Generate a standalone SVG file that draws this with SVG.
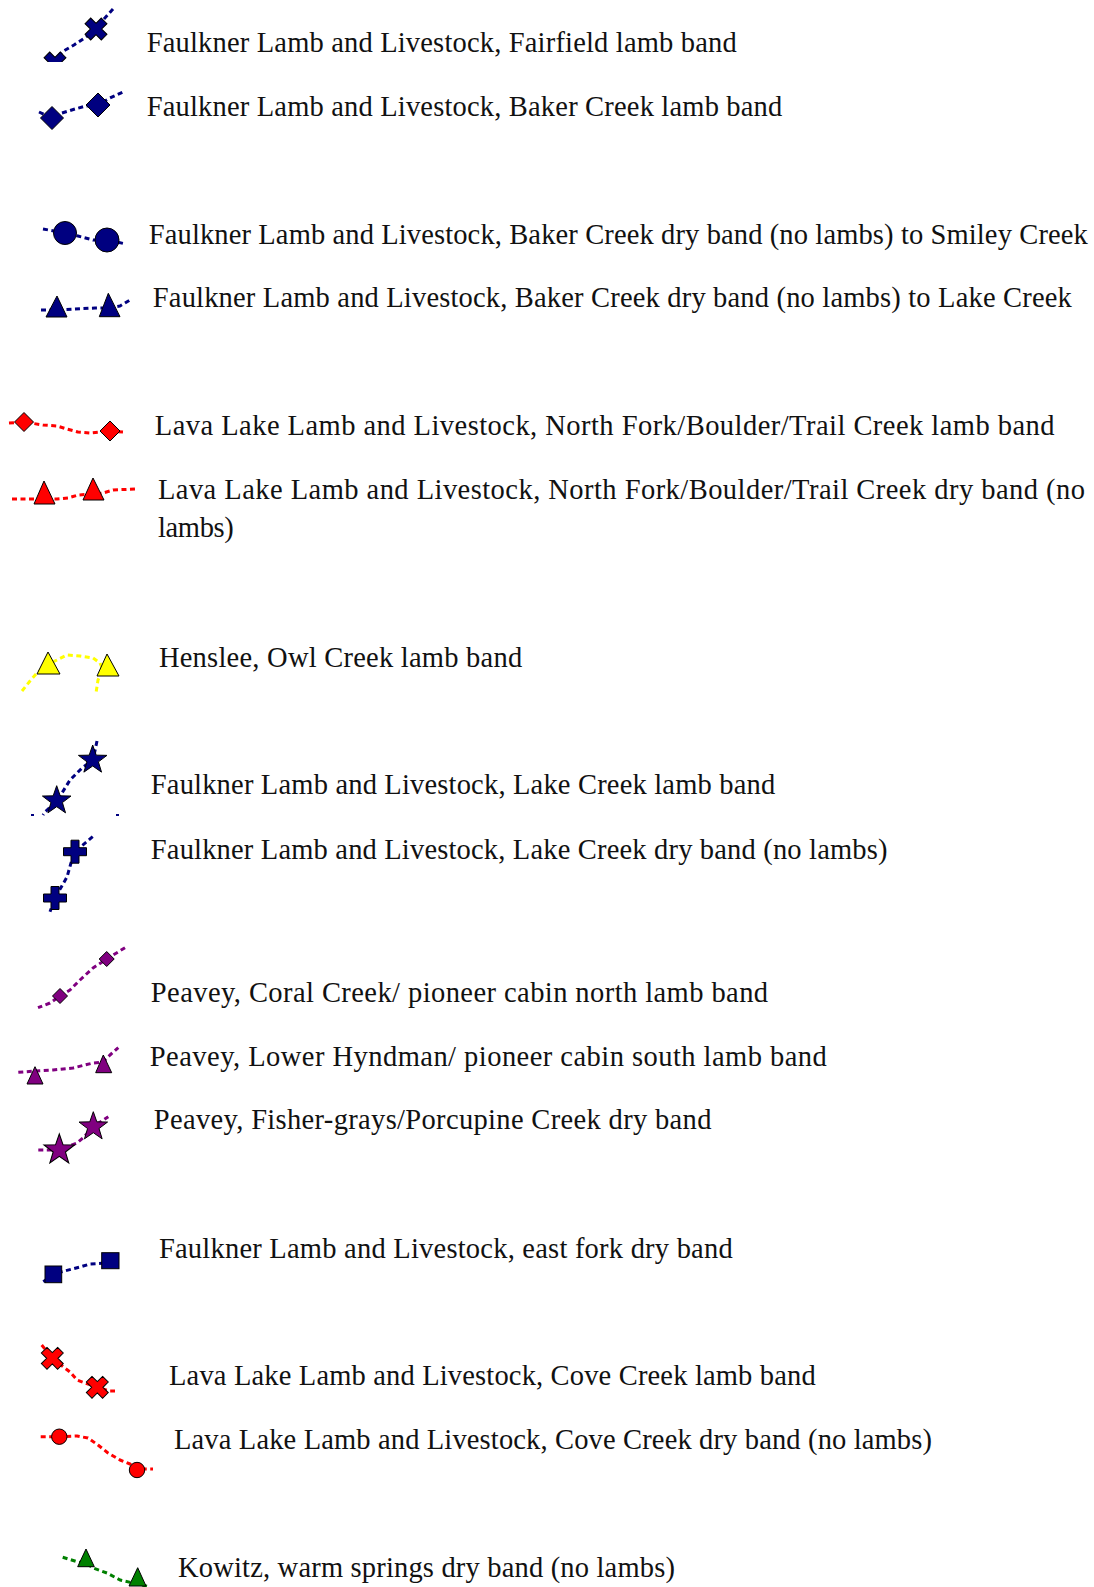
<svg xmlns="http://www.w3.org/2000/svg" width="1094" height="1587" viewBox="0 0 1094 1587">
<style>
  text { font-family: "Liberation Serif", "Times New Roman", serif; font-size: 28.5px; fill: #111; }
  .ln { fill: none; stroke-width: 3; stroke-dasharray: 5 3.5; stroke-linejoin: round; }
  .navy { stroke: #000080; }
  .red { stroke: #ff0000; }
  .yel { stroke: #ffff00; }
  .pur { stroke: #800080; }
  .grn { stroke: #008000; }
  .mk { stroke: #000; stroke-width: 1; }
  .fnavy { fill: #000080; }
  .fred { fill: #ff0000; }
  .fyel { fill: #ffff00; }
  .fpur { fill: #800080; }
  .fgrn { fill: #008000; }
</style>
<defs>
  <path id="star" d="M0,-15 L3.53,-4.85 L14.27,-4.64 L5.71,1.85 L8.82,12.14 L0,6 L-8.82,12.14 L-5.71,1.85 L-14.27,-4.64 L-3.53,-4.85 Z"/>
  <path id="plus" d="M-4,-11.5 H4 V-4 H11.5 V4 H4 V11.5 H-4 V4 H-11.5 V-4 H-4 Z"/>
  <path id="cross" d="M-4,-11.5 H4 V-4 H11.5 V4 H4 V11.5 H-4 V4 H-11.5 V-4 H-4 Z" transform="rotate(45)"/>
  <clipPath id="clip1"><rect x="0" y="0" width="140" height="62"/></clipPath>
</defs>

<g id="connectors">
  <polyline class="ln navy" points="113,9 104,19 96,29 86,37 74,45 62,52 55,60"/>
  <polyline class="ln navy" points="39,112 52,118 62,113 75,109 86,106 98,105 110,98 123,92"/>
  <polyline class="ln navy" points="43,229 65,233 78,236 93,240 107,240 126,244"/>
  <polyline class="ln navy" points="41,310 57,310 75,309 95,308 108,308 120,306 130,300"/>
  <polyline class="ln red" points="9,423 24,422 43,425 57,426 67,429 78,432 90,433 110,431 123,432"/>
  <polyline class="ln red" points="12,499 44,499 57,499 68,498 78,495 93,494 103,493 113,490 135,489"/>
  <polyline class="ln yel" points="22,691 30,681 37,673 48,664 57,660 67,655 80,656 93,658 100,663 103,670 98,680 96,693"/>
  <polyline class="ln navy" points="97,741 93,760 82,768 70,780 57,801 45,812 43,815"/>
  <polyline class="ln navy" points="92.7,836.7 75,851.7 71,863 67,877 55,898 50,911.7"/>
  <polyline class="ln pur" points="125,947.7 106.7,959 93,968 80,980 70,990 60,996 50,1003 38,1007.7"/>
  <polyline class="ln pur" points="18.3,1072.3 35,1071 53,1070 73,1068 93,1063 103,1062 110,1055 118.3,1047.7"/>
  <polyline class="ln pur" points="38.3,1150 59.3,1150 77,1143 83,1138 93.3,1126.7 108.3,1116.7"/>
  <polyline class="ln navy" points="43.3,1281.7 53,1275 61.7,1271.7 80,1267 90,1264 101.7,1263.3 110,1260 120,1252.7"/>
  <polyline class="ln red" points="41.7,1345 52.3,1358.3 70,1372 77,1380 85,1383 97.3,1387.3 110,1391 115,1391"/>
  <polyline class="ln red" points="40.7,1436.7 59.3,1436.7 77,1436 88,1438 98,1445 108,1453 120,1460 130,1464 137,1469 153,1469"/>
  <polyline class="ln grn" points="62.7,1557.3 78,1562 86,1563 93,1568 107,1573 120,1580 137.7,1584 150,1587"/>
</g>

<g id="n1">
  <use href="#cross" class="mk fnavy" transform="translate(96,29)"/>
  <g clip-path="url(#clip1)"><use href="#cross" class="mk fnavy" transform="translate(55,63)"/></g>
  <text x="146.7" y="52" textLength="590">Faulkner Lamb and Livestock, Fairfield lamb band</text>
</g>
<g id="n2">
  <polygon class="mk fnavy" points="52,106.5 63.5,118 52,129.5 40.5,118"/>
  <polygon class="mk fnavy" points="98,93 110,105 98,117 86,105"/>
  <text x="146.7" y="116" textLength="635.6">Faulkner Lamb and Livestock, Baker Creek lamb band</text>
</g>
<g id="n3">
  <circle class="mk fnavy" cx="65" cy="233" r="11.5"/>
  <circle class="mk fnavy" cx="107" cy="240" r="12"/>
  <text x="148.8" y="243.5" textLength="939">Faulkner Lamb and Livestock, Baker Creek dry band (no lambs) to Smiley Creek</text>
</g>
<g id="n4">
  <polygon class="mk fnavy" points="57,296 67,317 46,317"/>
  <polygon class="mk fnavy" points="108.3,293.3 120,316.7 99.3,316.7"/>
  <text x="152.8" y="307" textLength="919">Faulkner Lamb and Livestock, Baker Creek dry band (no lambs) to Lake Creek</text>
</g>
<g id="n5">
  <polygon class="mk fred" points="24,412.5 33.5,422 24,431.5 14.5,422"/>
  <polygon class="mk fred" points="110,421 120,431 110,441 100,431"/>
  <text x="154.8" y="435" textLength="899.7">Lava Lake Lamb and Livestock, North Fork/Boulder/Trail Creek lamb band</text>
</g>
<g id="n6">
  <polygon class="mk fred" points="44,481 55,504 34,504"/>
  <polygon class="mk fred" points="93,478 104,500 83,500"/>
  <text x="157.9" y="499" textLength="927">Lava Lake Lamb and Livestock, North Fork/Boulder/Trail Creek dry band (no</text>
  <text x="157.9" y="537" textLength="75.9">lambs)</text>
</g>
<g id="n7">
  <polygon class="mk fyel" points="48,652 60,674 37,674"/>
  <polygon class="mk fyel" points="107,654 119,676 97,676"/>
  <text x="158.9" y="667" textLength="363.3">Henslee, Owl Creek lamb band</text>
</g>
<g id="n8">
  <use href="#star" class="mk fnavy" transform="translate(92.7,760)"/>
  <use href="#star" class="mk fnavy" transform="translate(56.7,800.7)"/>
  <rect x="31" y="814" width="3" height="2" fill="#000080"/>
  <rect x="116" y="814" width="3" height="2" fill="#000080"/>
  <text x="150.8" y="794" textLength="624.4">Faulkner Lamb and Livestock, Lake Creek lamb band</text>
</g>
<g id="n9">
  <use href="#plus" class="mk fnavy" transform="translate(75,851.7)"/>
  <use href="#plus" class="mk fnavy" transform="translate(55,898)"/>
  <text x="150.8" y="858.5" textLength="736.7">Faulkner Lamb and Livestock, Lake Creek dry band (no lambs)</text>
</g>
<g id="n10">
  <polygon class="mk fpur" points="106.7,951.5 114.2,959 106.7,966.5 99.2,959"/>
  <polygon class="mk fpur" points="60,988.5 67.5,996 60,1003.5 52.5,996"/>
  <text x="150.8" y="1002" textLength="617.3">Peavey, Coral Creek/ pioneer cabin north lamb band</text>
</g>
<g id="n11">
  <polygon class="mk fpur" points="35,1066.7 43,1084 27,1084"/>
  <polygon class="mk fpur" points="103.3,1055 111.7,1072.7 95.7,1072.7"/>
  <text x="149.8" y="1065.5" textLength="677">Peavey, Lower Hyndman/ pioneer cabin south lamb band</text>
</g>
<g id="n12">
  <use href="#star" class="mk fpur" transform="translate(59.3,1150) scale(1.07)"/>
  <use href="#star" class="mk fpur" transform="translate(93.3,1126.7)"/>
  <text x="153.8" y="1129" textLength="557.6">Peavey, Fisher-grays/Porcupine Creek dry band</text>
</g>
<g id="n13">
  <rect class="mk fnavy" x="45" y="1266" width="16.7" height="16.7"/>
  <rect class="mk fnavy" x="101.7" y="1252.7" width="17.3" height="16"/>
  <text x="158.9" y="1258" textLength="573.8">Faulkner Lamb and Livestock, east fork dry band</text>
</g>
<g id="n14">
  <use href="#cross" class="mk fred" transform="translate(52.3,1358.3)"/>
  <use href="#cross" class="mk fred" transform="translate(97.3,1387.3)"/>
  <text x="169" y="1384.5" textLength="646.7">Lava Lake Lamb and Livestock, Cove Creek lamb band</text>
</g>
<g id="n15">
  <circle class="mk fred" cx="59.3" cy="1436.7" r="7.7"/>
  <circle class="mk fred" cx="137" cy="1470" r="7.7"/>
  <text x="174" y="1449" textLength="758">Lava Lake Lamb and Livestock, Cove Creek dry band (no lambs)</text>
</g>
<g id="n16">
  <polygon class="mk fgrn" points="86,1549 94.3,1566.7 77.7,1566.7"/>
  <polygon class="mk fgrn" points="137.7,1567.7 146,1586 129,1586"/>
  <text x="178" y="1576.5" textLength="497">Kowitz, warm springs dry band (no lambs)</text>
</g>
</svg>
